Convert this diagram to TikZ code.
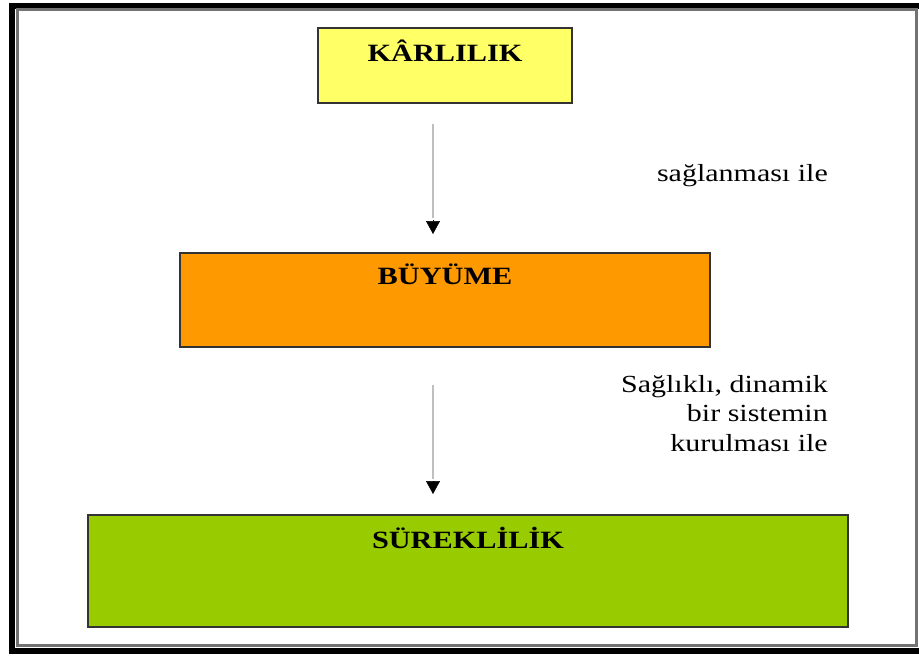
\documentclass[tikz,border=0pt]{standalone}
\usepackage{fontspec}
\setmainfont{Liberation Serif}
\usetikzlibrary{arrows.meta,calc}

\definecolor{boxyellow}{HTML}{FFFF66}
\definecolor{boxorange}{HTML}{FF9900}
\definecolor{boxgreen}{HTML}{99CC00}

\newcommand{\squash}[1]{\scalebox{1}[0.82]{#1}}

\tikzset{
  stagebox/.style={draw=black!80, line width=2pt, inner sep=0pt},
  stagetitle/.style={font=\fontsize{30.3}{36}\selectfont\bfseries, inner sep=0pt},
  sidenote/.style={font=\fontsize{30}{36.5}\selectfont, inner sep=0pt, anchor=east},
  flowline/.style={draw=black!25, line width=2pt},
  flowhead/.style={-{Triangle[length=13pt,width=14pt]}, draw=black, fill=black, line width=0.5pt}
}

\begin{document}
\begin{tikzpicture}[x=1pt,y=-1pt]
\useasboundingbox (0,0) rectangle (919,657);
\fill[white] (0,0) rectangle (919,657);

% page frame: heavy black rule with a grey rule inside
\draw[black, line width=6pt] (12,5.5) rectangle (925,651);
\draw[black!55, line width=3pt] (17,9.5) rectangle (916.5,645.5);

% the three stages
\node[stagebox, fill=boxyellow, minimum width=254pt, minimum height=75pt] (k) at (445,65.5) {};
\node[stagebox, fill=boxorange, minimum width=530pt, minimum height=94pt] (b) at (445,300) {};
\node[stagebox, fill=boxgreen, minimum width=760pt, minimum height=112pt] (s) at (468,571) {};

\node[stagetitle] (kt) at ($(k.north)+(0,23.5)$) {\squash{KÂRLILIK}};
\node[stagetitle] (bt) at ($(b.north)+(0,22.5)$) {\squash{BÜYÜME}};
\node[stagetitle] (st) at ($(s.north)+(0,24)$) {\squash{SÜREKLİLİK}};

% connectors: light grey shaft, black head just below it
\coordinate (a1s) at ($(k.south)+(-12,20)$);
\coordinate (a1e) at ($(b.north)+(-12,-34)$);
\coordinate (a1h) at ($(b.north)+(-12,-18)$);
\draw[flowline] (a1s) -- (a1e);
\draw[flowhead] ($(a1e)+(0,2)$) -- (a1h);

\coordinate (a2s) at ($(b.south)+(-12,37)$);
\coordinate (a2y) at ($(s.north)+(0,-35)$);
\coordinate (a2hy) at ($(s.north)+(0,-20)$);
\coordinate (a2e) at (a2s |- a2y);
\coordinate (a2h) at (a2s |- a2hy);
\draw[flowline] (a2s) -- (a2e);
\draw[flowhead] ($(a2e)+(0,2)$) -- (a2h);

% side notes
\node[sidenote] (n1) at (828,176) {\squash{sağlanması ile}};
\node[sidenote] (n2) at (828,416) {\squash{\begin{tabular}{@{}r@{}}Sağlıklı, dinamik\\bir sistemin\\kurulması ile\end{tabular}}};
\end{tikzpicture}
\end{document}
